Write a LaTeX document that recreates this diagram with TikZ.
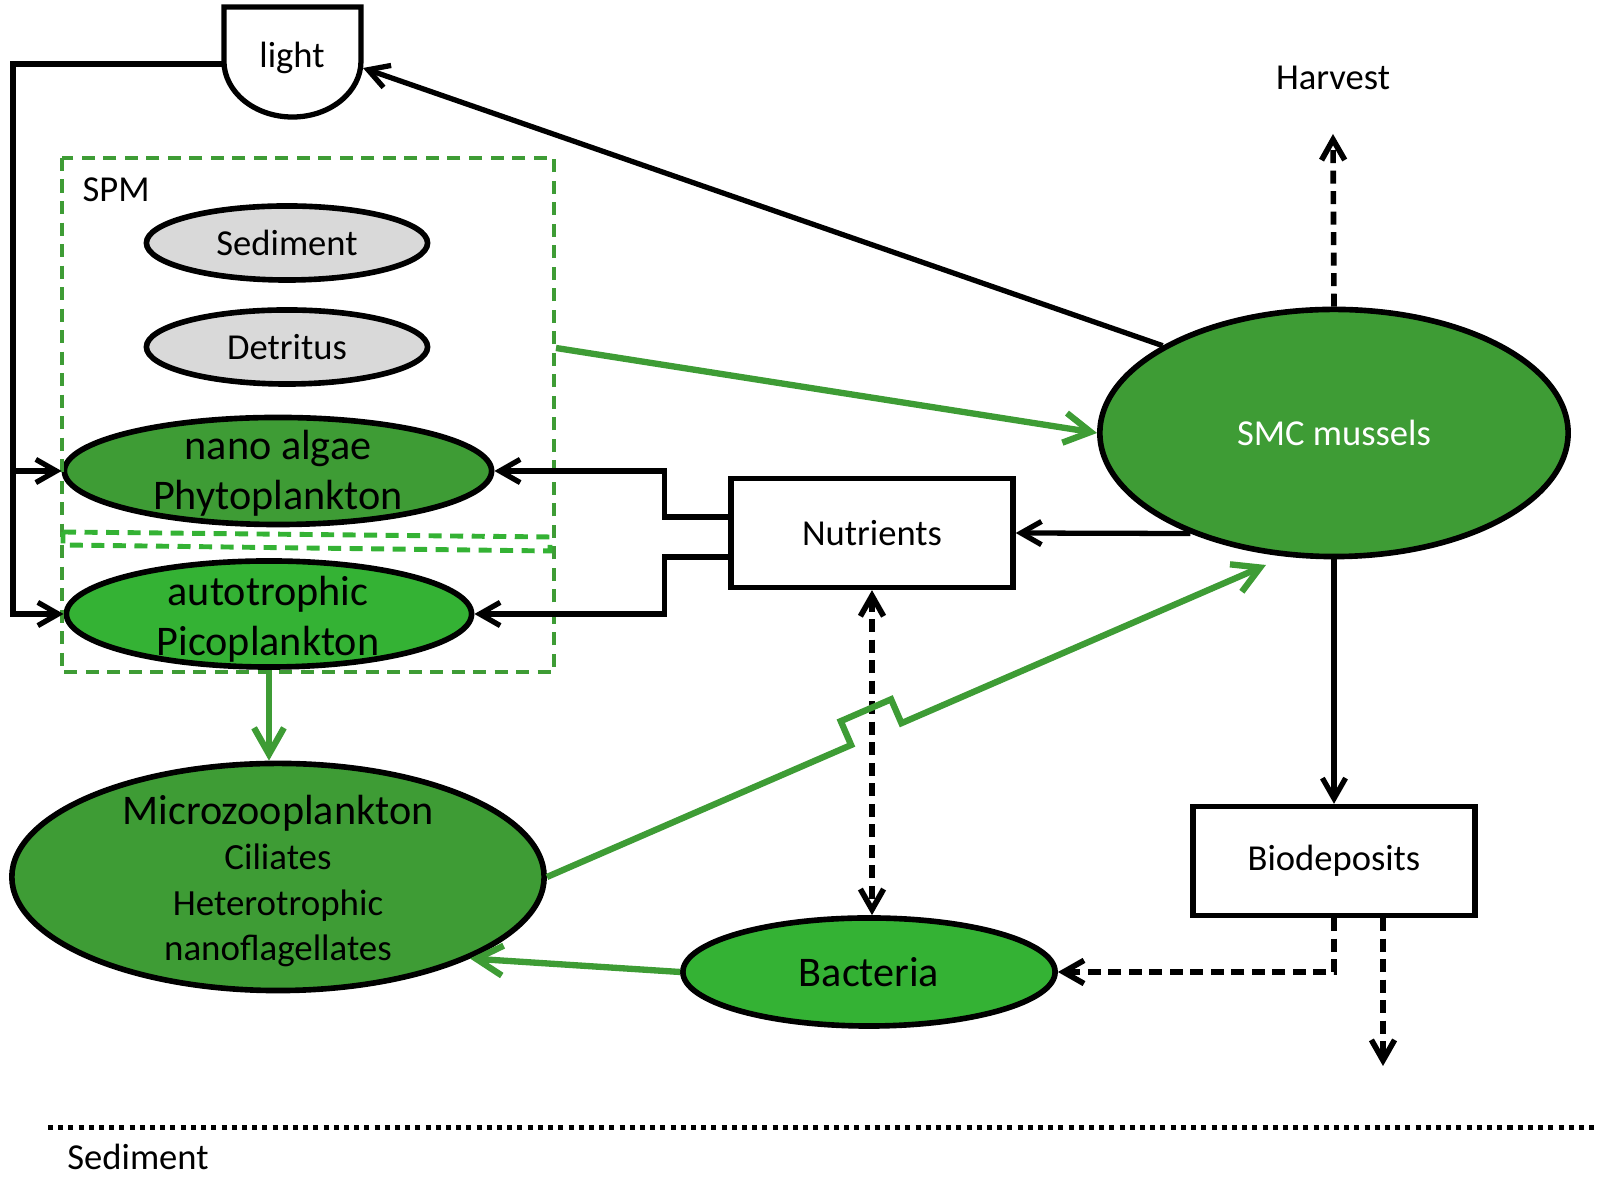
\documentclass[tikz,border=0pt]{standalone}
\usepackage{fontspec}
\setmainfont{Carlito}
\usetikzlibrary{arrows.meta,calc,shapes.geometric}
\definecolor{dkgreen}{HTML}{3E9C35}
\definecolor{ltgreen}{HTML}{34B234}
\definecolor{lgrey}{HTML}{D9D9D9}

\begin{document}
\begin{tikzpicture}[x=0.01cm,y=-0.01cm]
\tikzstyle{every node}+=[inner sep=0pt]
\tikzstyle{arr}=[-{Straight Barb[length=5.8pt,width=6.6pt]}]
\tikzstyle{arrboth}=[{Straight Barb[length=5.8pt,width=6.6pt]}-{Straight Barb[length=5.8pt,width=6.6pt]}]
\tikzstyle{garr}=[-{Straight Barb[length=7.5pt,width=8.5pt]}]
\tikzstyle{blk}=[black,line width=1.5pt,arr]
\tikzstyle{dsh}=[black,line width=1.6pt,dash pattern=on 0.13cm off 0.075cm]
\tikzstyle{grn}=[dkgreen,line width=1.8pt,garr]
\tikzstyle{ell}=[ellipse,draw=black,line width=1.6pt]
\tikzstyle{box}=[rectangle,draw=black,line width=1.5pt,minimum width=2.82cm,minimum height=1.09cm]
\tikzstyle{txt}=[font=\fontsize{10.4}{12.5}\selectfont]
\tikzstyle{big}=[font=\fontsize{12}{14.3}\selectfont,align=center]
\tikzstyle{spmline}=[line width=1.4pt,dash pattern=on 0.13cm off 0.085cm]

\useasboundingbox (0,0) rectangle (1599,1177);

\draw [black,line width=1.5pt] (224,7) -- (361,7) -- (361,61) arc[start angle=0,end angle=-180,x radius=0.685cm,y radius=0.56cm] -- cycle;
\node [txt,anchor=base] (light) at (292,68) {light};
\coordinate (lightW) at (224,64);
\coordinate (lightE) at (363,68);
\coordinate (bend) at (13,64);

\node [ell,fill=lgrey,txt,minimum width=2.81cm,minimum height=0.74cm] (sed) at (287,243) {Sediment};
\node [ell,fill=lgrey,txt,minimum width=2.81cm,minimum height=0.74cm] (det) at (287,347) {Detritus};
\node [ell,fill=dkgreen,minimum width=4.27cm,minimum height=1.07cm] (nano) at (278,471) {};
\node [big] (nanotxt) at (278,473) {nano algae\\Phytoplankton};
\node [ell,fill=ltgreen,minimum width=4.05cm,minimum height=1.06cm] (pico) at (269,614) {};
\node [big] (picotxt) at (268,619) {autotrophic\\Picoplankton};
\node [ell,fill=dkgreen,minimum width=5.32cm,minimum height=2.27cm] (micro) at (278,877) {};
\node [align=center,font=\fontsize{10.5}{12.9}\selectfont] (microtxt) at (278,881) {{\fontsize{12}{13}\selectfont Microzooplankton}\\Ciliates\\Heterotrophic\\nanoflagellates};
\node [ell,fill=ltgreen,font=\fontsize{12}{14}\selectfont,minimum width=3.72cm,minimum height=1.08cm] (bact) at (869,972) {Bacteria};
\node [ell,fill=dkgreen,txt,text=white,minimum width=4.68cm,minimum height=2.47cm] (smc) at (1334,433) {SMC mussels};
\node [box,txt] (nutr) at (872,533) {Nutrients};
\node [box,txt] (bio) at (1334,861) {Biodeposits};
\node [txt,anchor=base] (harvest) at (1333,90) {Harvest};
\node [txt,anchor=base] (sedlbl) at (138,1170) {Sediment};
\coordinate (harvTip) at (1333,134);
\coordinate (sink) at (1383,1066);
\coordinate (smcSW) at (1266,565);

\draw [dkgreen,spmline] (62,158) rectangle (554,672);
\draw [ltgreen,spmline] (63,532) -- (550,537) -- (550,551) -- (63,545) -- cycle;
\node [txt,anchor=base west] (spm) at (82,202) {SPM};
\coordinate (spmE) at (556,348);

\draw [blk] (smc.153) -- (lightE);
\draw [blk] (lightW) -- (bend) |- (nano.west);
\draw [blk] (bend) |- (pico.west);
\draw [blk] ($(nutr.west)+(0,-16)$) -- ++(-64,0) |- (nano.east);
\draw [blk] ($(nutr.west)+(0,24)$) -- ++(-64,0) |- (pico.east);
\draw [blk] (smc.215) -- (nutr.east);
\draw [blk] (smc.south) -- (bio.north);
\draw [dsh,arr] (smc.north) -- (harvTip);
\draw [dsh,arrboth] (nutr.south) -- (nutr.south |- bact.north);
\draw [dsh,arr] (bio.south) |- (bact.east);
\draw [dsh,arr] (bio.south -| sink) -- (sink);

\draw [grn] (spmE) -- (smc.west);
\draw [grn] (pico.south) -- (pico.south |- micro.north);
\draw [grn] (bact.west) -- (micro.-23);
\coordinate (jmpA) at ($(micro.east)!0.423!(smcSW)$);
\coordinate (jmpB) at ($(micro.east)!0.493!(smcSW)$);
\draw [grn] (micro.east) -- (jmpA) -- ($(jmpA)!0.26cm!90:(smcSW)$) -- ($(jmpB)!0.26cm!-90:(micro.east)$) -- (jmpB) -- (smcSW);

\draw [black,line width=0.05cm,dash pattern=on 0.05cm off 0.052cm] (48,1128) -- (1599,1128);
\end{tikzpicture}
\end{document}
